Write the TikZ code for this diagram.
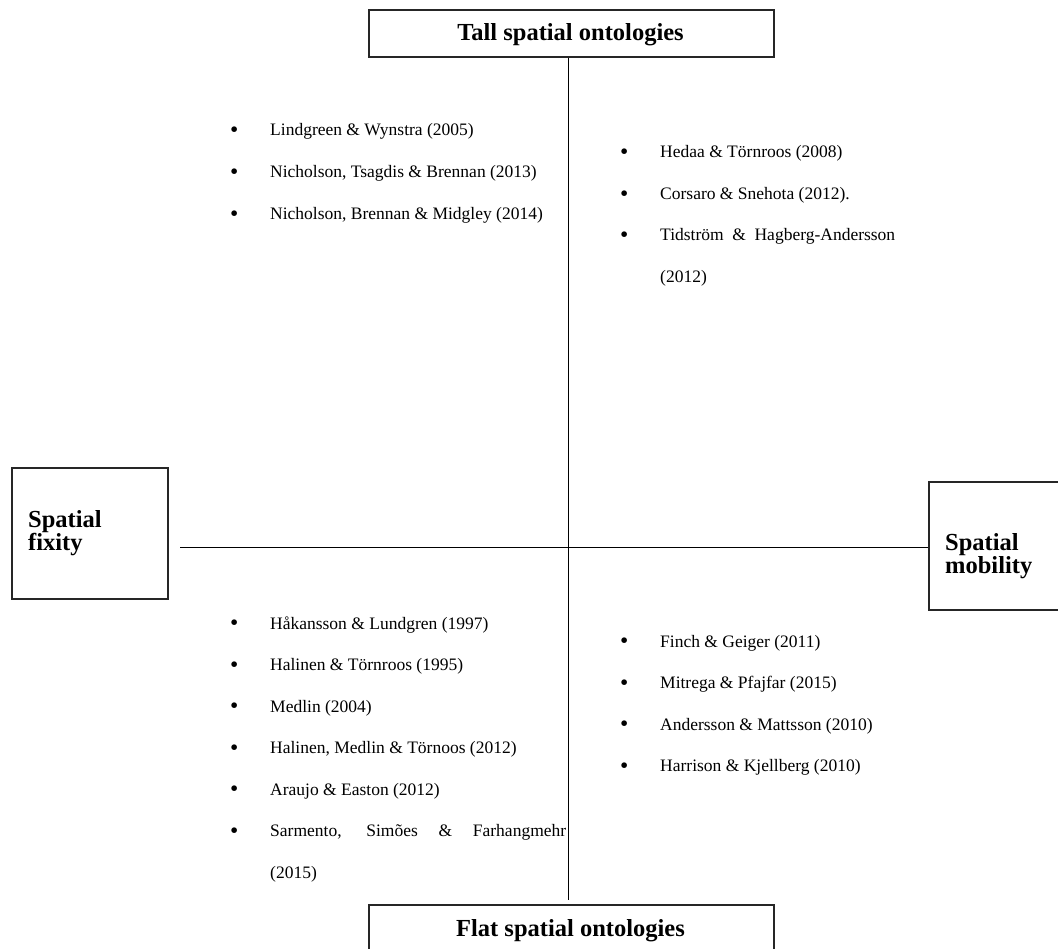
\documentclass[tikz,border=0pt]{standalone}
\usepackage{fontspec}
\setmainfont{Liberation Serif}
\newcommand{\itemfnt}{\fontsize{17.5}{21}\selectfont}
\newcommand{\headfnt}{\fontsize{24.5}{23.5}\selectfont\bfseries}
\newcommand{\bul}{\makebox[40pt][l]{\raisebox{-0.1em}{\scalebox{1.35}{\textbullet}}}}
\begin{document}
\begin{tikzpicture}[x=1pt,y=-1pt,
  boxst/.style={draw=black!85, line width=1.6pt, inner sep=0pt},
  axis/.style={draw=black, line width=1pt},
  head/.style={font=\headfnt, inner sep=0pt},
  item/.style={anchor=base west, inner sep=0pt, font=\itemfnt}]
\useasboundingbox (0,0) rectangle (1058,949);
\clip (0,0) rectangle (1058,949);
% boxes
\node[boxst, minimum width=405, minimum height=47, anchor=north west] (tall) at (368,9) {};
\node[head, anchor=base] (talltxt) at (570.5,40.5) {Tall spatial ontologies};
\node[boxst, minimum width=405, minimum height=47, anchor=north west] (flat) at (368,904) {};
\node[head, anchor=base] (flattxt) at (570.5,936) {Flat spatial ontologies};
\node[boxst, minimum width=156, minimum height=131, anchor=north west] (fix) at (11,467) {};
\node[head, align=left, anchor=west] (fixtxt) at (28,533) {Spatial\\fixity};
\node[boxst, minimum width=140, minimum height=128, anchor=north west] (mob) at (928,481) {};
\node[head, align=left, anchor=west] (mobtxt) at (945,556) {Spatial\\mobility};
% axes
\coordinate (vt) at (568,56);
\coordinate (vb) at (568,900);
\coordinate (hl) at (180,547);
\draw[axis] (vt |- tall.south) -- (vb);
\draw[axis] (hl) -- (mob.west |- hl);
% top left
\node[item] (tl1) at (230,136) {\bul Lindgreen \& Wynstra (2005)};
\node[item] (tl2) at (230,178) {\bul Nicholson, Tsagdis \& Brennan (2013)};
\node[item] (tl3) at (230,220) {\bul Nicholson, Brennan \& Midgley (2014)};
% top right
\node[item] (tr1) at (620,158) {\bul Hedaa \& Törnroos (2008)};
\node[item] (tr2) at (620,199.5) {\bul Corsaro \& Snehota (2012).};
\node[item] (tr3) at (620,241) {\bul\makebox[235pt][s]{Tidström \& Hagberg-Andersson}};
\node[item] (tr4) at (660,283) {(2012)};
% bottom left
\node[item] (bl1) at (230,629) {\bul Håkansson \& Lundgren (1997)};
\node[item] (bl2) at (230,670.5) {\bul Halinen \& Törnroos (1995)};
\node[item] (bl3) at (230,712) {\bul Medlin (2004)};
\node[item] (bl4) at (230,753.5) {\bul Halinen, Medlin \& Törnoos (2012)};
\node[item] (bl5) at (230,795) {\bul Araujo \& Easton (2012)};
\node[item] (bl6) at (230,836.5) {\bul\makebox[296pt][s]{Sarmento, Simões \& Farhangmehr}};
\node[item] (bl7) at (270,878) {(2015)};
% bottom right
\node[item] (br1) at (620,647) {\bul Finch \& Geiger (2011)};
\node[item] (br2) at (620,688.5) {\bul Mitrega \& Pfajfar (2015)};
\node[item] (br3) at (620,730) {\bul Andersson \& Mattsson (2010)};
\node[item] (br4) at (620,771.5) {\bul Harrison \& Kjellberg (2010)};
\end{tikzpicture}
\end{document}
